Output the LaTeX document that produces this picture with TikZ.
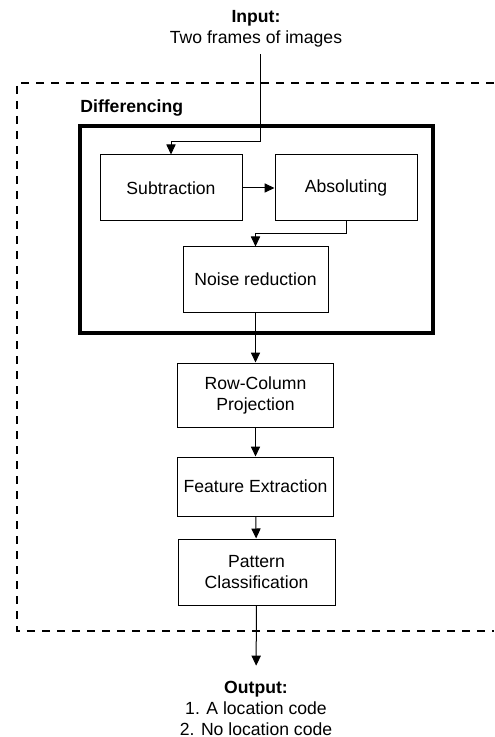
\documentclass[tikz,border=0pt]{standalone}
\usepackage{fontspec}
\setmainfont{Liberation Sans}
\usetikzlibrary{arrows.meta}

\begin{document}
\begin{tikzpicture}[x=0.5pt, y=-0.5pt,
	font=\fontsize{8.8}{10.5}\selectfont,
	stage/.style={draw, line width=0.5pt, align=center, inner sep=0pt},
	flow/.style={line width=0.5pt, -{Triangle[length=5pt,width=4.6pt]}}]
	\useasboundingbox (0,0) rectangle (494,737);

	% outer dashed region (open on the right)
	\draw[line width=0.6pt, dash pattern=on 4pt off 3.5pt] (494,83) -- (17,83) -- (17,631) -- (494,631);

	% differencing block
	\draw[line width=1.6pt] (80,126) rectangle (433,333);
	\node[anchor=west, font=\fontsize{8.8}{10.5}\selectfont\bfseries, inner sep=0pt] (diff) at (80,108) {Differencing};

	\node[align=center] (inp) at (256,29) {\textbf{Input:}\\Two frames of images};
	\node[stage, minimum width=71pt, minimum height=33pt] (sub) at (171,188) {Subtraction};
	\node[stage, minimum width=71pt, minimum height=33pt] (abs) at (346,188) {Absoluting};
	\node[stage, minimum width=72.5pt, minimum height=32.5pt] (noise) at (255.5,279.5) {Noise reduction};

	\node[stage, minimum width=78pt, minimum height=32pt] (rc) at (255.5,395) {Row-Column\\Projection};
	\node[stage, minimum width=78pt, minimum height=29.5pt] (fe) at (255.5,486.5) {Feature Extraction};
	\node[stage, minimum width=78.5pt, minimum height=33pt] (pc) at (256.5,572) {Pattern\\Classification};
	\node[align=center] (out) at (256,708) {\textbf{Output:}\\1. A location code\\2. No location code};

	\coordinate (k1) at (260,142);
	\draw[flow] (inp.south -| k1) -- (k1) -| (sub.north);
	\draw[flow] (sub) -- (abs);
	\draw[flow] (abs.south) -- ++(0,12) -| (noise.north);
	\draw[flow] (noise) -- (rc);
	\draw[flow] (rc) -- (fe);
	\draw[flow] (fe) -- (pc);
	\draw[flow, shorten >=4pt] (pc) -- (out);
\end{tikzpicture}
\end{document}
